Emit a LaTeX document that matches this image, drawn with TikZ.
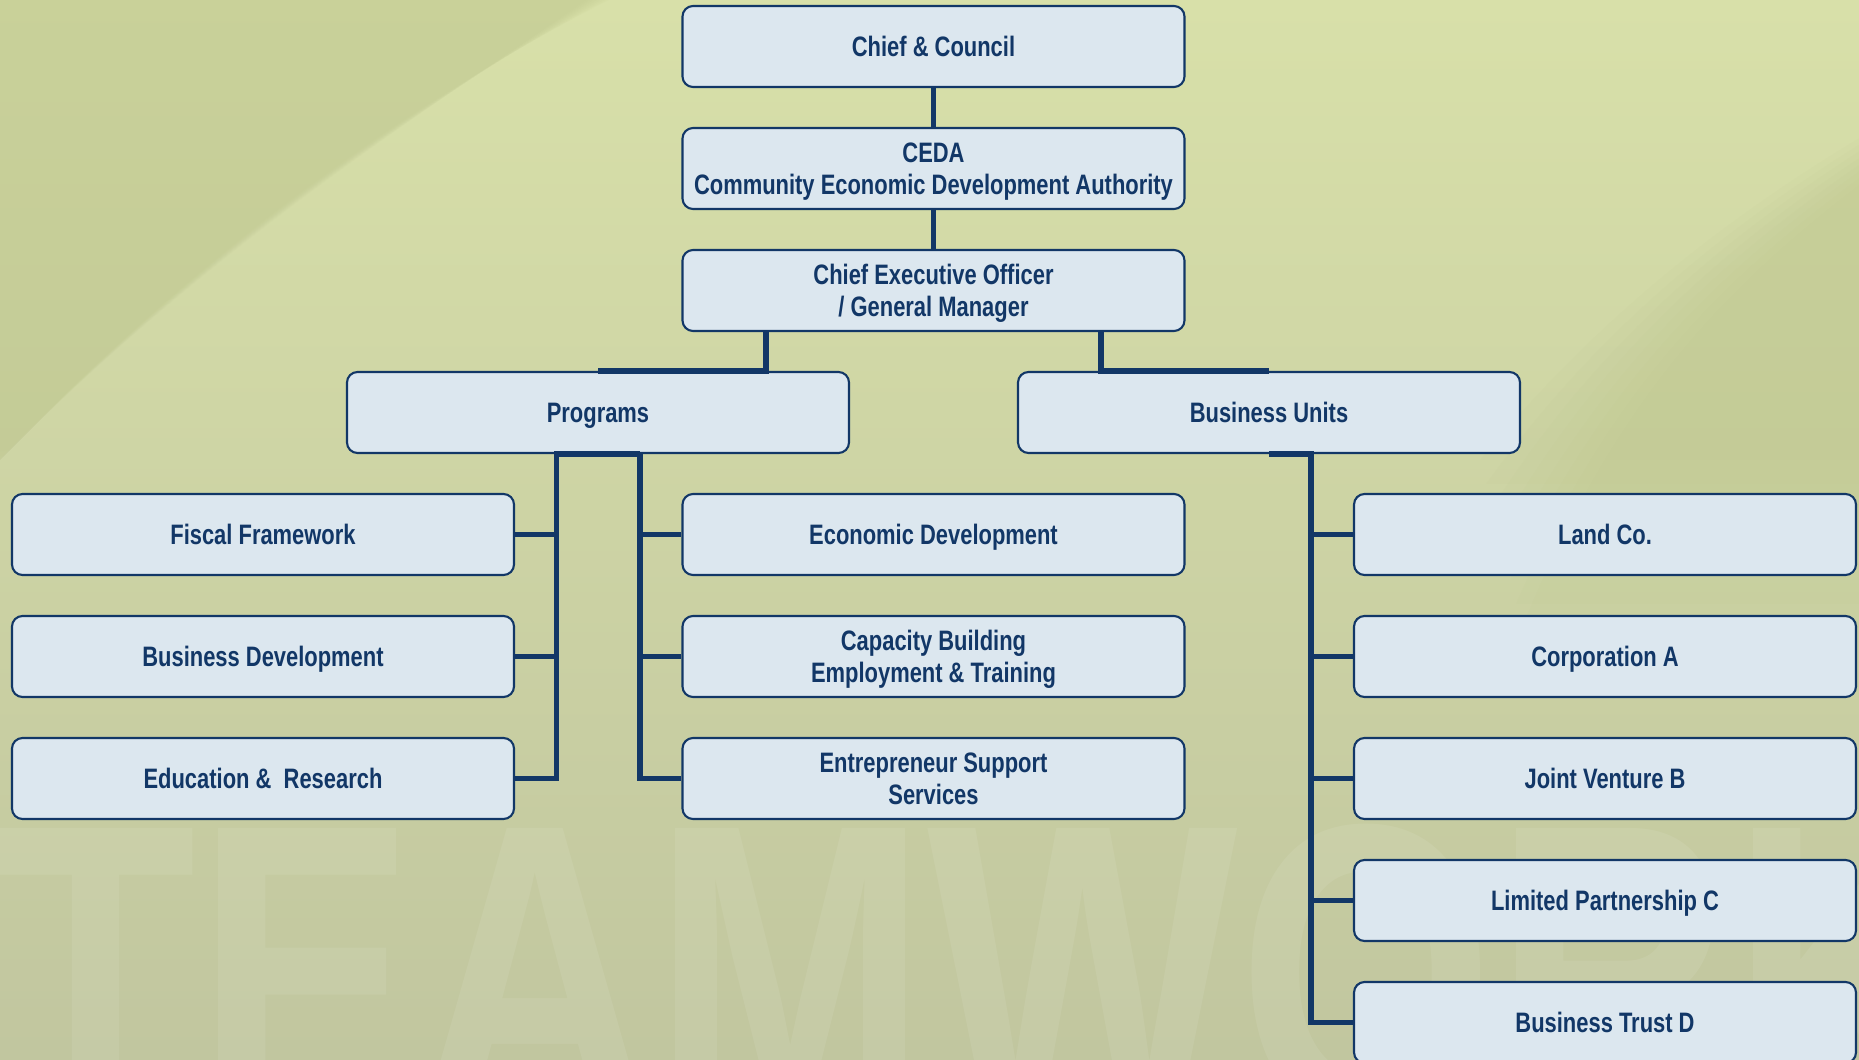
\documentclass[tikz,border=0pt]{standalone}
\usepackage{fontspec}
\setmainfont{Liberation Sans}[FakeStretch=0.78]
\newfontfamily\markfont{Liberation Sans}[FakeStretch=0.78]
\definecolor{navy}{HTML}{123767}
\definecolor{boxfill}{HTML}{DCE7EF}
\definecolor{bgtop}{HTML}{D8E0A9}
\definecolor{bgmid}{HTML}{CFD6A2}
\definecolor{bgbot}{HTML}{C1C69F}
\definecolor{bgdark}{HTML}{BCC48C}

\begin{document}
\begin{tikzpicture}[unit/.style={draw=navy,line width=0.6pt,fill=boxfill,rounded corners=3pt,minimum width=5.02cm,minimum height=0.81cm,text width=4.9cm,align=flush center,inner sep=0pt,text=navy,font=\bfseries\fontsize{8}{9.2}\selectfont,execute at begin node={\rule{0pt}{7.5pt}},execute at end node={\rule[-1.7pt]{0pt}{0pt}}},link/.style={navy,line width=1.5pt}]
\def\dy{-1.22}
\def\ytop{-0.465}
\def\xl{2.63}
\def\xm{9.335}
\def\xr{16.05}
\def\xp{5.98}
\def\xb{12.69}

% page and backdrop
\useasboundingbox (0,0) rectangle (18.59,-10.60);
\clip (0,0) rectangle (18.59,-10.60);
\shade[top color=bgtop,middle color=bgmid,bottom color=bgbot] (0,0) rectangle (18.59,-10.60);
% soft darker sweeps, top left and right
\foreach \d in {0,0.06,...,0.42}{
  \fill[bgdark,opacity=0.07] (0,0.3) -- (6.7-\d,0.3) .. controls (5.0-\d,-0.5-\d) and (2.6-\d,-1.9-\d) .. (0.1-\d,-4.5-\d) -- (-0.5,-4.6) -- cycle;
  \fill[bgdark,opacity=0.07] (18.9,-1.2-\d) .. controls (17.0+\d,-2.3-\d) and (15.8+\d,-3.4-\d) .. (14.8+\d,-4.6-4*\d) -- (18.9,-4.6-4*\d) -- cycle;
}
\node[anchor=base west,inner sep=0pt,text=white,opacity=0.08,font=\markfont\bfseries\fontsize{120}{120}\selectfont] (mark) at (-0.05,-11.18) {TEAMWORK};

% top chain
\node[unit] (chief) at (\xm,\ytop) {Chief \& Council};
\node[unit] (ceda) at (\xm,\ytop+\dy) {CEDA\\Community Economic Development Authority};
\node[unit] (ceo) at (\xm,\ytop+2*\dy) {Chief Executive Officer\\/ General Manager};
\node[unit] (prog) at (\xp,\ytop+3*\dy) {Programs};
\node[unit] (bu) at (\xb,\ytop+3*\dy) {Business Units};

% programs
\node[unit] (fis) at (\xl,\ytop+4*\dy) {Fiscal Framework};
\node[unit] (busdev) at (\xl,\ytop+5*\dy) {Business Development};
\node[unit] (edu) at (\xl,\ytop+6*\dy) {Education \& \ Research};
\node[unit] (econ) at (\xm,\ytop+4*\dy) {Economic Development};
\node[unit] (cap) at (\xm,\ytop+5*\dy) {Capacity Building\\Employment \& Training};
\node[unit] (ent) at (\xm,\ytop+6*\dy) {Entrepreneur Support\\Services};

% business units
\node[unit] (land) at (\xr,\ytop+4*\dy) {Land Co.};
\node[unit] (corpa) at (\xr,\ytop+5*\dy) {Corporation A};
\node[unit] (jvb) at (\xr,\ytop+6*\dy) {Joint Venture B};
\node[unit] (lpc) at (\xr,\ytop+7*\dy) {Limited Partnership C};
\node[unit] (btd) at (\xr,\ytop+8*\dy) {Business Trust D};

\draw[link] (chief.south) -- (ceda.north);
\draw[link] (ceda.south) -- (ceo.north);
\draw[link] ([xshift=-1.675cm]ceo.south) |- (prog.north);
\draw[link] ([xshift=1.675cm]ceo.south) |- (bu.north);

\coordinate (pl) at ([xshift=-0.415cm]prog.south);
\coordinate (pr) at ([xshift=0.42cm]prog.south);
\draw[link] (pr) -- (pl) |- (edu.east);
\draw[link] (pl |- fis.east) -- (fis.east);
\draw[link] (pl |- busdev.east) -- (busdev.east);
\draw[link] (pr) |- (ent.west);
\draw[link] (pr |- econ.west) -- (econ.west);
\draw[link] (pr |- cap.west) -- (cap.west);

\coordinate (bv) at ([xshift=0.42cm]bu.south);
\draw[link] (bu.south) -- (bv) |- (btd.west);
\draw[link] (bv |- land.west) -- (land.west);
\draw[link] (bv |- corpa.west) -- (corpa.west);
\draw[link] (bv |- jvb.west) -- (jvb.west);
\draw[link] (bv |- lpc.west) -- (lpc.west);
\end{tikzpicture}
\end{document}
